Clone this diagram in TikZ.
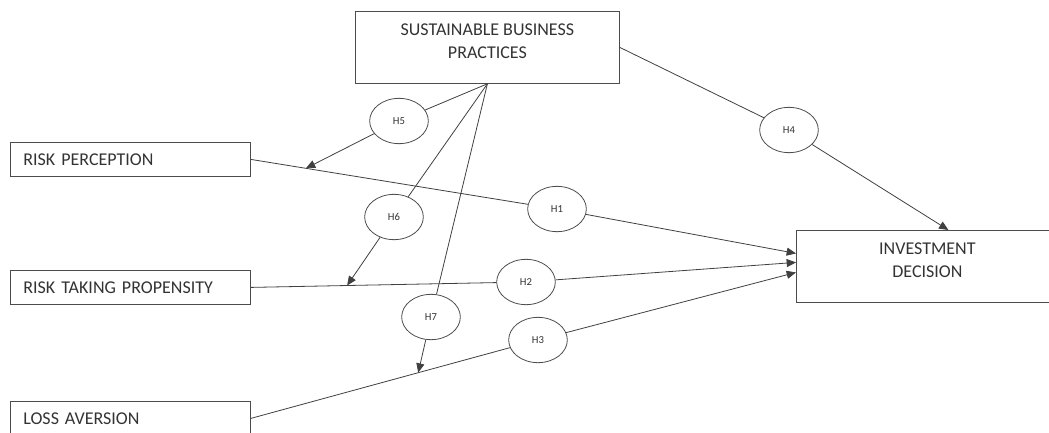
\documentclass[tikz,border=0pt]{standalone}
\usepackage{fontspec}
\setmainfont{Carlito}
\usetikzlibrary{arrows.meta, positioning, calc, shapes.geometric}

\begin{document}
\begin{tikzpicture}[
  x=0.75pt, y=-0.75pt,
  font=\fontsize{13.5}{17}\selectfont,
  >={Triangle[length=7pt, width=6pt]},
  construct/.style={
    rectangle, draw=black!70, line width=0.6pt, anchor=north west,
    minimum width=180pt, minimum height=25.5pt, inner xsep=9.75pt,
    text width=160.5pt, align=left, text=black!80
  },
  mainbox/.style={
    rectangle, draw=black!70, line width=0.6pt, anchor=north west,
    minimum height=54pt, align=center, text=black!80
  },
  hyp/.style={
    ellipse, draw=black!70, line width=0.6pt, inner sep=0pt,
    minimum width=44pt, minimum height=34pt,
    font=\fontsize{8}{10}\selectfont, text=black!80
  },
  plain/.style={line width=0.6pt, draw=black!75},
  flow/.style={plain, ->}
]

\clip (0,0) rectangle (1049,432);

% Constructs
\node[mainbox, minimum width=198pt] (sbp) at (355,11)
  {SUSTAINABLE BUSINESS\\PRACTICES\rule[-9pt]{0pt}{9pt}};
\node[construct] (rp) at (10,142) {RISK PERCEPTION};
\node[construct] (rtp) at (10,270) {RISK TAKING PROPENSITY};
\node[construct] (la) at (10,401) {LOSS AVERSION};
\node[mainbox, minimum width=196.5pt] (id) at (796,230)
  {INVESTMENT\\DECISION\rule[-9pt]{0pt}{9pt}};

% Hypotheses
\node[hyp] (h1) at (557,209) {H1};
\node[hyp] (h2) at (526,282) {H2};
\node[hyp] (h3) at (538,340) {H3};
\node[hyp] (h4) at (789,130) {H4};
\node[hyp] (h5) at (399,121) {H5};
\node[hyp] (h6) at (394,217) {H6};
\node[hyp] (h7) at (431,317) {H7};

% Moderation points and arrow ends
\coordinate (m5) at ($(rp.east)!0.18!(h1.center)$);
\coordinate (m6) at ($(rtp.east)!0.35!(h2.center)$);
\coordinate (m7) at ($(la.east)!0.583!(h3.center)$);
\coordinate (in1) at ($(id.west)+(0,-13)$);
\coordinate (in2) at ($(id.west)+(0,-4)$);
\coordinate (in3) at ($(id.west)+(0,6)$);
\coordinate (in4) at ($(id.north)+(21,0)$);

% Direct paths
\draw[plain] (rp.east) -- (h1);
\draw[plain] (rtp.east) -- (h2);
\draw[plain] (la.east) -- (h3);
\draw[plain] (sbp.east) -- (h4);
\draw[flow] (h1) -- (in1);
\draw[flow] (h2) -- (in2);
\draw[flow] (h3) -- (in3);
\draw[flow] (h4) -- (in4);

% Moderating paths
\draw[plain] (sbp.south) -- (h5);
\draw[plain] (sbp.south) -- (h6);
\draw[plain] (sbp.south) -- (h7);
\draw[flow] (h5) -- (m5);
\draw[flow] (h6) -- (m6);
\draw[flow] (h7) -- (m7);

\end{tikzpicture}
\end{document}
